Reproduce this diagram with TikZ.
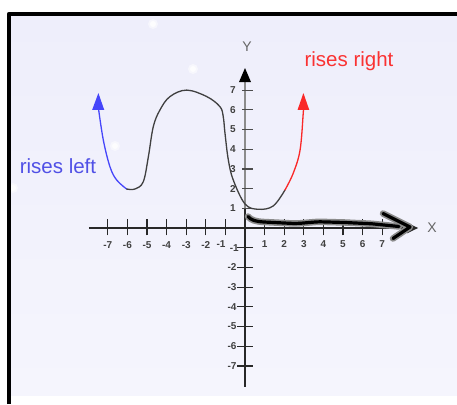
\documentclass[tikz,border=0pt]{standalone}
\usepackage{fontspec}
\setmainfont{Liberation Sans}
\definecolor{bgtop}{RGB}{238,238,251}
\definecolor{bgbot}{RGB}{245,245,253}
\definecolor{curveblue}{RGB}{70,70,250}
\definecolor{curvered}{RGB}{250,40,40}
\definecolor{txtblue}{RGB}{80,80,230}
\definecolor{txtred}{RGB}{250,50,50}
\definecolor{axiscol}{RGB}{40,40,40}
\tikzset{
  axisline/.style={draw=axiscol,line width=1.5pt},
  tickline/.style={draw=axiscol,line width=1.2pt},
  ticklabel/.style={font=\fontsize{10}{10}\selectfont\bfseries,text=black!75,inner sep=0pt},
  bigtxt/.style={font=\fontsize{20.5}{20.5}\selectfont,inner sep=0pt},
  axlabel/.style={font=\fontsize{14}{14}\selectfont,text=black!60,inner sep=0pt},
  curvedraw/.style={line width=1.3pt,line join=round,line cap=round},
}
\begin{document}
\begin{tikzpicture}[x=1pt,y=-1pt]
\useasboundingbox (0,0) rectangle (457,404);
\fill[white] (0,0) rectangle (457,404);
\shade[top color=bgtop,bottom color=bgbot] (9,14) rectangle (457,395);
% faint white spots
\foreach \p in {(153,24),(193,69),(115,146),(13,188)} {
  \fill[white,opacity=0.5] \p circle (5);
  \fill[white,opacity=0.8] \p circle (3);
}
% frame
\draw[line width=4.5pt,line join=round] (9,404) -- (9,14) -- (457,14);

\begin{scope}[shift={(245,228)},x=19.6pt,y=19.7pt]
  % axes
  \draw[axisline] (-7.96,0) -- (8.3,0);
  \fill[axiscol] (8.27,0.27) -- (8.83,0) -- (8.27,-0.27) -- cycle;
  \draw[axisline] (0,-8.07) -- (0,1.0);
  \draw[draw=black!45,line width=1.3pt] (0,1.0) -- (0,7.45);
  \fill[black] (-0.31,7.4) -- (0,8.12) -- (0.31,7.4) -- cycle;
  % ticks
  \foreach \i in {-7,...,-1,1,2,...,7} {
    \draw[tickline] (\i,-0.38) -- (\i,0.45);
  }
  \foreach \i in {-7,...,-2} {
    \draw[tickline] (-0.4,\i) -- (0.42,\i);
    \node[ticklabel] (yl\i) at (-0.66,\i) {\i};
    \node[ticklabel] (xl\i) at (\i,-0.88) {\i};
  }
  \draw[tickline] (-0.4,-1) -- (0.42,-1);
  \node[ticklabel] (yl-1) at (-0.55,-1.03) {-1};
  \node[ticklabel] (xl-1) at (-1.22,-0.8) {-1};
  \foreach \i in {1,...,7} {
    \draw[tickline,draw=black!70] (-0.15,\i) -- (0.42,\i);
    \node[ticklabel] (yp\i) at (-0.62,\i) {\i};
    \node[ticklabel] (xp\i) at (\i,-0.8) {\i};
  }
  % curve
  \draw[curvedraw,draw=curveblue] plot[smooth,tension=0.6] coordinates
    {(-7.48,6.1) (-7.23,4.47) (-6.89,3.11) (-6.55,2.44) (-6.04,1.98)};
  \fill[curveblue] (-7.8,5.99) -- (-7.48,6.85) -- (-7.18,5.99) -- cycle;
  \draw[curvedraw,draw=black!75] plot[smooth,tension=0.6] coordinates
    {(-6.04,1.98) (-5.61,1.98) (-5.19,2.35) (-4.93,3.62) (-4.68,5.14)
     (-4.34,5.99) (-3.83,6.67) (-2.98,7.0) (-1.95,6.67) (-1.28,6.16)
     (-1.11,5.65) (-1.02,4.8) (-0.85,3.45) (-0.6,2.44) (0,1.22)
     (0.68,0.95) (1.44,1.12) (2.04,1.93)};
  \draw[curvedraw,draw=curvered] plot[smooth,tension=0.6] coordinates
    {(2.04,1.93) (2.46,2.78) (2.81,3.96) (2.97,5.82) (2.98,6.1)};
  \fill[curvered] (2.68,5.99) -- (2.98,6.85) -- (3.28,5.99) -- cycle;
\end{scope}

% hand drawn arrow
\foreach \w/\c in {6.5pt/black!45,3.2pt/black} {
  \draw[line width=\w,draw=\c,line cap=round,line join=round]
    (248,216.5) .. controls (251,220) and (255,221.5) .. (264,222)
    -- (290,223.3) .. controls (300,224) and (310,222) .. (320,221.8)
    -- (345,222.5) -- (372,223.8) -- (399,226.5);
  \draw[line width=\w,draw=\c,line cap=round,line join=round]
    (383,213.5) -- (410,227) -- (393,238.5);
}

% labels
\node[axlabel] (ylab) at (247,47) {Y};
\node[axlabel] (xlab) at (432,228) {X};
\node[bigtxt,text=txtblue] (rl) at (58,166) {rises left};
\node[bigtxt,text=txtred] (rr) at (349,61) {rises right};
\end{tikzpicture}
\end{document}
